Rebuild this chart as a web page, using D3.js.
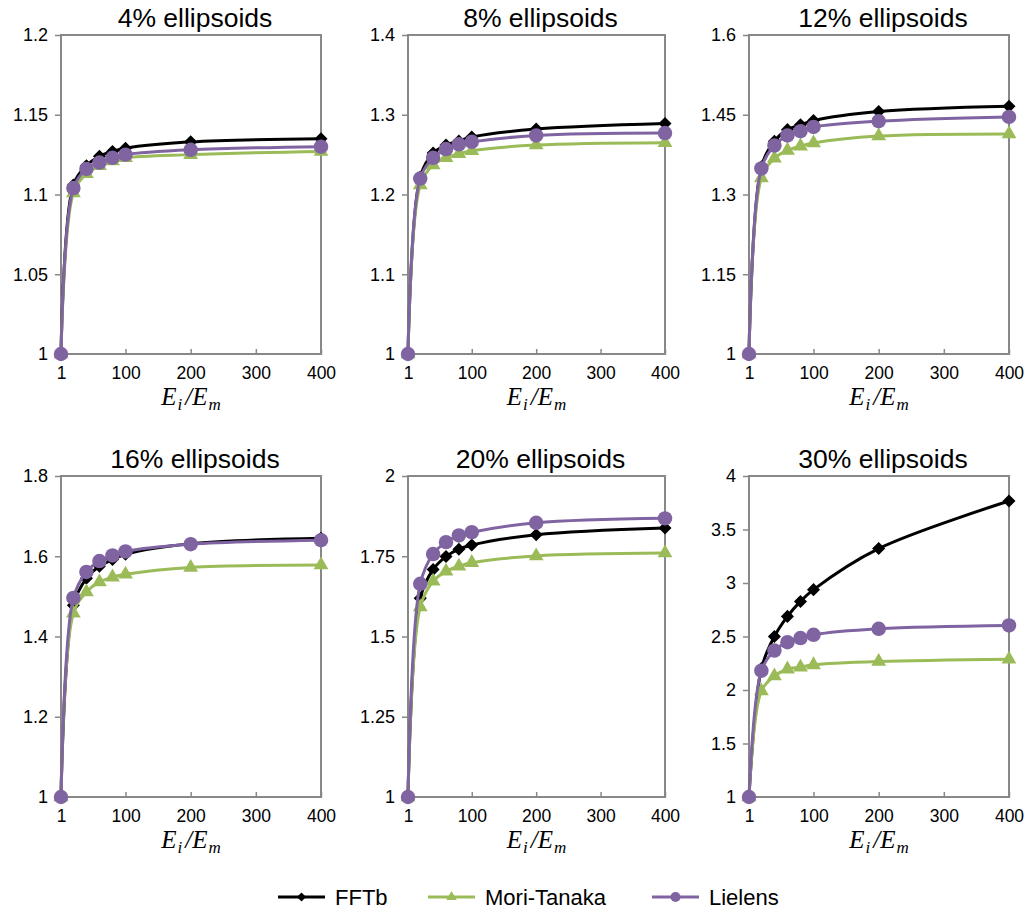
<!DOCTYPE html>
<html>
<head>
<meta charset="utf-8">
<title>Ellipsoids</title>
<script src="https://d3js.org/d3.v7.min.js"></script>
<style>
  body { margin: 0; background: #fff; }
  svg text { font-family: "Liberation Sans", Arial, sans-serif; }
</style>
</head>
<body>
<svg width="1029" height="911"></svg>
<script>
// shared x values (Ei/Em)
const xs = [1, 20, 40, 60, 80, 100, 200, 400];
const xTicks = [1, 100, 200, 300, 400];

const titles = ["4% ellipsoids", "8% ellipsoids", "12% ellipsoids",
                "16% ellipsoids", "20% ellipsoids", "30% ellipsoids"];

const yTicks = [
  [1, 1.05, 1.1, 1.15, 1.2],
  [1, 1.1, 1.2, 1.3, 1.4],
  [1, 1.15, 1.3, 1.45, 1.6],
  [1, 1.2, 1.4, 1.6, 1.8],
  [1, 1.25, 1.5, 1.75, 2],
  [1, 1.5, 2, 2.5, 3, 3.5, 4]
];

const fftb = [
  [1, 1.106, 1.118, 1.124, 1.127, 1.129, 1.133, 1.135],
  [1, 1.222, 1.252, 1.262, 1.267, 1.272, 1.282, 1.289],
  [1, 1.352, 1.400, 1.422, 1.431, 1.439, 1.456, 1.466],
  [1, 1.478, 1.545, 1.575, 1.592, 1.605, 1.631, 1.645],
  [1, 1.619, 1.709, 1.749, 1.772, 1.785, 1.817, 1.838],
  [1, 2.200, 2.500, 2.688, 2.828, 2.938, 3.322, 3.766]
];
const moriTanaka = [
  [1, 1.101, 1.113, 1.118, 1.121, 1.123, 1.125, 1.127],
  [1, 1.212, 1.237, 1.246, 1.251, 1.255, 1.262, 1.265],
  [1, 1.331, 1.368, 1.383, 1.391, 1.397, 1.410, 1.414],
  [1, 1.458, 1.511, 1.536, 1.548, 1.555, 1.572, 1.578],
  [1, 1.592, 1.672, 1.703, 1.719, 1.730, 1.751, 1.760],
  [1, 1.991, 2.131, 2.195, 2.213, 2.235, 2.266, 2.288]
];
const lielens = [
  [1, 1.104, 1.116, 1.120, 1.123, 1.125, 1.128, 1.130],
  [1, 1.220, 1.246, 1.257, 1.263, 1.266, 1.274, 1.277],
  [1, 1.349, 1.392, 1.411, 1.419, 1.427, 1.438, 1.446],
  [1, 1.496, 1.561, 1.588, 1.602, 1.612, 1.630, 1.640],
  [1, 1.664, 1.757, 1.794, 1.815, 1.825, 1.854, 1.868],
  [1, 2.181, 2.369, 2.447, 2.485, 2.516, 2.572, 2.603]
];

const seriesNames = ["FFTb", "Mori-Tanaka", "Lielens"];
const seriesData = [fftb, moriTanaka, lielens];
const colors = ["#000000", "#9bbb59", "#8064a2"];

// layout of the plot areas
const colLeft = [61, 408, 749];
const colWidth = [260, 257, 260];
const rowTop = [35, 476];
const rowHeight = [319, 321];

const svg = d3.select("svg");

const symbols = [
  d3.symbol().type(d3.symbolSquare).size(85),
  d3.symbol().type(d3.symbolTriangle).size(95),
  d3.symbol().type(d3.symbolCircle).size(165)
];

titles.forEach((title, p) => {
  const col = p % 3, row = Math.floor(p / 3);
  const left = colLeft[col], top = rowTop[row];
  const w = colWidth[col], h = rowHeight[row];
  const ticks = yTicks[p];

  const x = d3.scaleLinear().domain([1, 400]).range([0, w]);
  const y = d3.scaleLinear().domain([ticks[0], ticks[ticks.length - 1]]).range([h, 0]);

  const g = svg.append("g").attr("transform", `translate(${left},${top})`);

  // y axis (ticks outside)
  const ya = g.append("g").call(d3.axisLeft(y).tickValues(ticks).tickSize(6).tickPadding(7)
      .tickFormat(d => String(+d.toFixed(2))));
  ya.select(".domain").remove();
  ya.selectAll("line").attr("stroke", "#888").attr("stroke-width", 1.5);
  ya.selectAll("text").attr("font-size", 18).attr("fill", "#000");

  // x axis (ticks inside)
  const xa = g.append("g").attr("transform", `translate(0,${h})`)
    .call(d3.axisBottom(x).tickValues(xTicks).tickSize(-5).tickPadding(13));
  xa.select(".domain").remove();
  xa.selectAll("line").attr("stroke", "#888").attr("stroke-width", 1.5);
  xa.selectAll("text").attr("font-size", 17.5).attr("fill", "#000");

  // plot frame
  g.append("rect").attr("width", w).attr("height", h)
    .attr("fill", "none").attr("stroke", "#888").attr("stroke-width", 2);

  // title
  g.append("text").attr("x", w / 2 + 4).attr("y", -8)
    .attr("text-anchor", "middle").attr("font-size", 26.5).text(title);

  // x axis title Ei/Em
  const xt = g.append("text").attr("x", w / 2).attr("y", h + 51)
    .attr("text-anchor", "middle")
    .style("font-family", "'Liberation Serif', 'Times New Roman', serif")
    .style("font-style", "italic").attr("font-size", 25);
  xt.append("tspan").text("E");
  xt.append("tspan").attr("font-size", 17).attr("dy", 5).attr("dx", 1).text("i");
  xt.append("tspan").attr("dy", -5).attr("dx", 3).text("/E");
  xt.append("tspan").attr("font-size", 17).attr("dy", 5).attr("dx", 1).text("m");

  const line = d3.line()
    .x((d, i) => x(xs[i]))
    .y(d => y(d))
    .curve(d3.curveCatmullRom.alpha(0.5));

  seriesData.forEach((series, s) => {
    const vals = series[p];
    g.append("path").attr("d", line(vals))
      .attr("fill", "none").attr("stroke", colors[s]).attr("stroke-width", 3);
    g.selectAll(null).data(vals).join("path")
      .attr("d", symbols[s])
      .attr("transform", (d, i) => `translate(${x(xs[i])},${y(d)})` + (s === 0 ? " rotate(45)" : ""))
      .attr("fill", colors[s]);
  });
});

// legend
const legendX = [278, 428, 652];
const legend = svg.append("g").attr("transform", "translate(0,897)");
seriesNames.forEach((name, s) => {
  const lg = legend.append("g").attr("transform", `translate(${legendX[s]},0)`);
  lg.append("line").attr("x1", 0).attr("x2", 47)
    .attr("stroke", colors[s]).attr("stroke-width", 3);
  lg.append("path").attr("d", symbols[s])
    .attr("transform", `translate(23.5,0) scale(0.7)` + (s === 0 ? " rotate(45)" : ""))
    .attr("fill", colors[s]);
  lg.append("text").attr("x", 57).attr("y", 8).attr("font-size", 22).text(name);
});
</script>
</body>
</html>
